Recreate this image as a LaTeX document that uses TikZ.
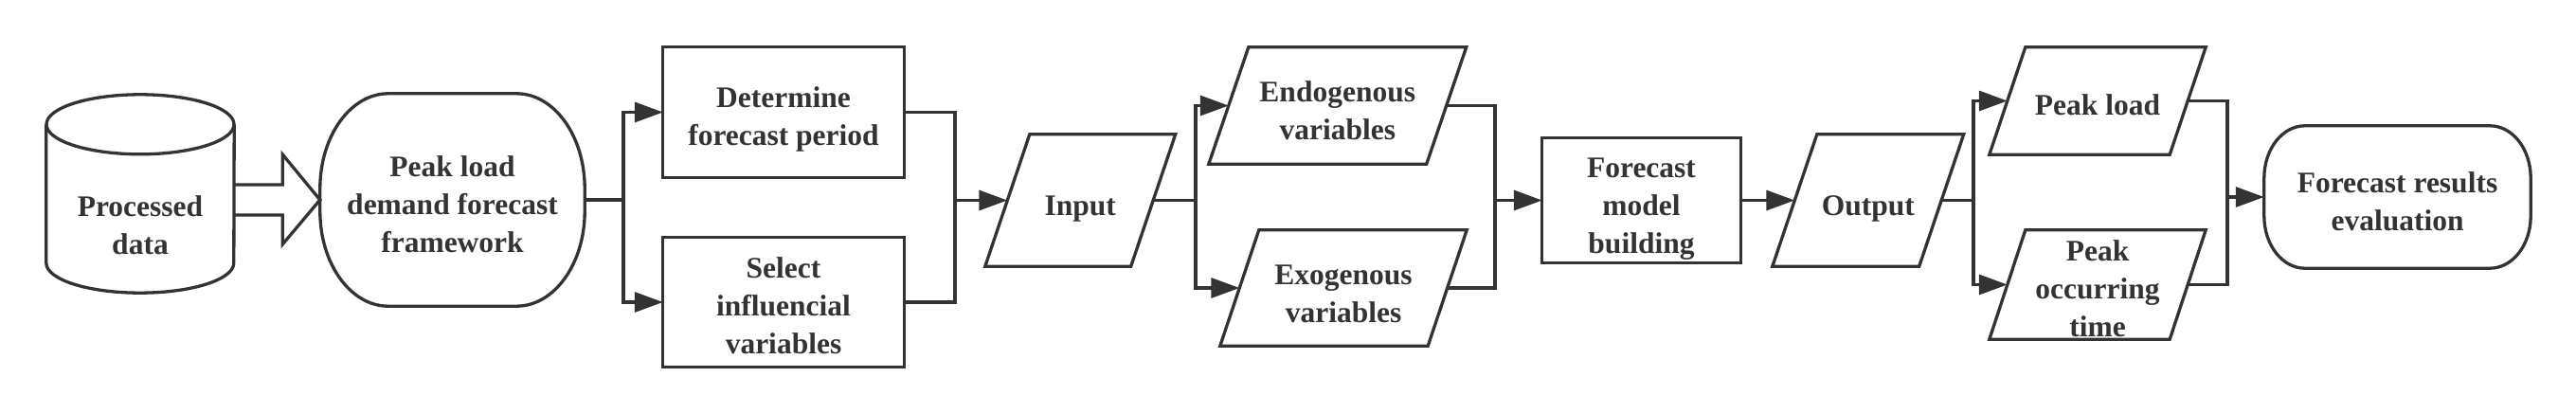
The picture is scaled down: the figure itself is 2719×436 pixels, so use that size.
\documentclass[tikz,border=0pt]{standalone}
\usepackage{fontspec}
\setmainfont{Liberation Serif}
\usetikzlibrary{arrows.meta,calc}
\definecolor{dk}{HTML}{333333}
\pgfdeclarelayer{bg}
\pgfsetlayers{bg,main}
\newcommand\mytxt[2]{\raisebox{#1}[0pt][0pt]{\begin{tabular}[t]{@{}c@{}}#2\end{tabular}}}
\newcommand\drawpara[2]{\draw[shp] ([xshift=-#2pt]#1.south west) -- ([xshift=#2pt]#1.north west) -- ([xshift=#2pt]#1.north east) -- ([xshift=-#2pt]#1.south east) -- cycle;}
\newcommand\drawterm[3]{\draw[shp] ([xshift=#2pt]#1.north west) -- ([xshift=-#2pt]#1.north east) arc[start angle=90,end angle=0,x radius=#2pt,y radius=#3pt] -- ([yshift=#3pt]#1.south east) arc[start angle=0,end angle=-90,x radius=#2pt,y radius=#3pt] -- ([xshift=#2pt]#1.south west) arc[start angle=270,end angle=180,x radius=#2pt,y radius=#3pt] -- ([yshift=-#3pt]#1.north west) arc[start angle=180,end angle=90,x radius=#2pt,y radius=#3pt] -- cycle;}
\newcommand\drawcyl[3]{\draw[shp] ([yshift=-#3pt]#1.north) ellipse[x radius=#2pt,y radius=#3pt];
 \draw[shp] ([yshift=-#3pt]#1.north west) -- ([yshift=#3pt]#1.south west) arc[start angle=180,end angle=360,x radius=#2pt,y radius=#3pt] -- ([yshift=-#3pt]#1.north east);}
\tikzset{
  shp/.style={draw=dk, line width=3.3pt},
  ln/.style={draw=dk, line width=3.3pt},
  arr/.style={ln, -{Triangle[length=30pt,width=21pt]}},
  base/.style={inner sep=0pt, text=dk, font=\fontsize{31.5}{40}\selectfont\bfseries},
}
\begin{document}
\begin{tikzpicture}[x=1pt,y=-1pt]
\begin{pgfonlayer}{bg}
\fill[white] (0,0) rectangle (2719,436);
\end{pgfonlayer}
\useasboundingbox (0,0) rectangle (2719,436);

\node[base, minimum width=198pt, minimum height=209pt] (cyl) at (148,204.5) {\mytxt{-23.5pt}{Processed\\data}};
\node[base, minimum width=279pt, minimum height=224pt] (pl) at (477.5,211) {\mytxt{25pt}{Peak load\\demand forecast\\framework}};
\node[base, minimum width=254pt, minimum height=137pt] (det) at (827,118.5) {\mytxt{5.5pt}{Determine\\forecast period}};
\node[base, minimum width=254pt, minimum height=136pt] (sel) at (827,319) {\mytxt{26pt}{Select\\influencial\\variables}};
\node[base, minimum width=153.5pt, minimum height=139pt] (inp) at (1140.25,211.5) {\mytxt{-15.5pt}{Input}};
\node[base, minimum width=229.5pt, minimum height=123pt] (endo) at (1411.75,111.5) {\mytxt{4.5pt}{Endogenous\\variables}};
\node[base, minimum width=219pt, minimum height=122pt] (exo) at (1418,304) {\mytxt{4pt}{Exogenous\\variables}};
\node[base, minimum width=209pt, minimum height=131pt] (fmb) at (1732.5,211.5) {\mytxt{24.5pt}{Forecast\\model\\building}};
\node[base, minimum width=154.5pt, minimum height=139pt] (out) at (1971.75,211.5) {\mytxt{-15.5pt}{Output}};
\node[base, minimum width=190pt, minimum height=113pt] (pk) at (2214,106.5) {\mytxt{-14.5pt}{Peak load}};
\node[base, minimum width=190pt, minimum height=115pt] (pot) at (2214,300.5) {\mytxt{25.5pt}{Peak\\occurring\\time}};
\node[base, minimum width=281pt, minimum height=150pt] (fre) at (2530.5,208) {\mytxt{5pt}{Forecast results\\evaluation}};

\begin{pgfonlayer}{bg}
\drawcyl{cyl}{99}{31.5}
\drawterm{pl}{72}{100}
\draw[shp] (det.south west) rectangle (det.north east);
\draw[shp] (sel.south west) rectangle (sel.north east);
\drawpara{inp}{23.5}
\drawpara{endo}{21}
\drawpara{exo}{20.5}
\draw[shp] (fmb.south west) rectangle (fmb.north east);
\drawpara{out}{23.5}
\drawpara{pk}{19}
\drawpara{pot}{19}
\drawterm{fre}{43}{55}
\end{pgfonlayer}

% block arrow
\coordinate (ba) at (cyl.east |- pl.west);
\draw[shp] ($(ba)+(0,-16)$) -- ++(51,0) -- ++(0,-32) -- (pl.west) -- ($(ba)+(51,47)$) -- ++(0,-31) -- ($(ba)+(0,16)$);

\coordinate (j1) at (658,211);
\draw[ln] (pl.east) -- (j1);
\draw[arr] (j1) |- (det.west);
\draw[arr] (j1) |- (sel.west);
\coordinate (j2) at (1008,211.5);
\draw[ln] (det.east) -| (j2);
\draw[ln] (sel.east) -| (j2);
\draw[arr] (j2) -- (inp.west);
\coordinate (j3) at (1262,211.5);
\draw[ln] (inp.east) -- (j3);
\draw[arr] (j3) |- (endo.west);
\draw[arr] (j3) |- (exo.west);
\coordinate (j4) at (1578,211.5);
\draw[ln] (endo.east) -| (j4);
\draw[ln] (exo.east) -| (j4);
\draw[arr] (j4) -- (fmb.west);
\draw[arr] (fmb.east) -- (out.west);
\coordinate (j5) at (2083,211.5);
\draw[ln] (out.east) -- (j5);
\draw[arr] (j5) |- (pk.west);
\draw[arr] (j5) |- (pot.west);
\coordinate (j6) at (2351,208);
\draw[ln] (pk.east) -| (j6);
\draw[ln] (pot.east) -| (j6);
\draw[arr] (j6) -- (fre.west);
\end{tikzpicture}
\end{document}
